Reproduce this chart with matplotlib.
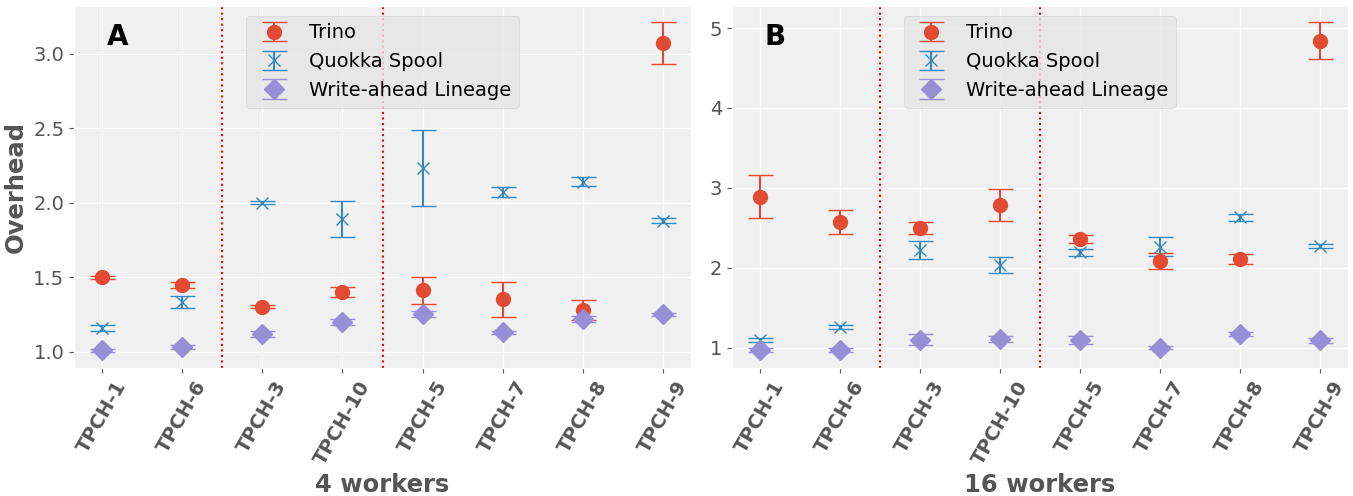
import matplotlib
matplotlib.use("Agg")
import matplotlib.pyplot as plt
import numpy as np

queries = ["TPCH-1", "TPCH-6", "TPCH-3", "TPCH-10", "TPCH-5", "TPCH-7", "TPCH-8", "TPCH-9"]
series_names = ["Trino", "Quokka Spool", "Write-ahead Lineage"]
panel_labels = ["A", "B"]
worker_labels = ["4 workers", "16 workers"]

# 4 workers
trino_4 = [1.50, 1.45, 1.30, 1.40, 1.41, 1.35, 1.28, 3.07]
trino_4_err = [0.01, 0.02, 0.01, 0.035, 0.09, 0.115, 0.065, 0.14]
quokka_4 = [1.16, 1.33, 2.00, 1.89, 2.23, 2.07, 2.14, 1.88]
quokka_4_err = [0.02, 0.04, 0.01, 0.12, 0.255, 0.035, 0.03, 0.02]
wal_4 = [1.01, 1.03, 1.12, 1.20, 1.25, 1.13, 1.22, 1.25]
wal_4_err = [0.01, 0.015, 0.02, 0.02, 0.02, 0.01, 0.02, 0.01]

# 16 workers
trino_16 = [2.89, 2.57, 2.50, 2.78, 2.36, 2.08, 2.11, 4.84]
trino_16_err = [0.27, 0.15, 0.075, 0.20, 0.055, 0.10, 0.06, 0.23]
quokka_16 = [1.09, 1.26, 2.22, 2.03, 2.19, 2.26, 2.63, 2.27]
quokka_16_err = [0.025, 0.025, 0.115, 0.10, 0.05, 0.12, 0.04, 0.025]
wal_16 = [0.97, 0.97, 1.10, 1.11, 1.09, 1.00, 1.17, 1.09]
wal_16_err = [0.02, 0.02, 0.07, 0.04, 0.05, 0.02, 0.02, 0.03]

group_boundaries = [1.5, 3.5]

plt.style.use("ggplot")
colors = ["#E24A33", "#348ABD", "#988ED5"]
markers = ["o", "x", "D"]
msizes = [10, 9, 10]
mews = [1.0, 1.0, 1.0]

fig = plt.figure(figsize=(13.53, 4.96), dpi=100)
ax1 = fig.add_axes([74 / 1353, 128 / 496, 617 / 1353, 362 / 496])
ax2 = fig.add_axes([732 / 1353, 128 / 496, 616 / 1353, 362 / 496])

data = [
    ([trino_4, quokka_4, wal_4], [trino_4_err, quokka_4_err, wal_4_err]),
    ([trino_16, quokka_16, wal_16], [trino_16_err, quokka_16_err, wal_16_err]),
]

x = np.arange(len(queries))
for i, ax in enumerate([ax1, ax2]):
    ax.set_facecolor("#F0F0F0")
    vals, errs = data[i]
    for s in range(3):
        ax.errorbar(x, vals[s], yerr=errs[s], fmt=markers[s], color=colors[s],
                    markersize=msizes[s], capsize=9, elinewidth=1.5, capthick=1.5,
                    markeredgewidth=mews[s], label=series_names[s])
    for b in group_boundaries:
        ax.axvline(b, color="red", linestyle=":", linewidth=1.5)
    ax.set_xticks(x)
    ax.set_xticklabels(queries, rotation=60, fontsize=14, fontweight="bold", color="#555555")
    ax.tick_params(axis="y", labelsize=14, labelcolor="#555555")
    ax.set_xlabel(worker_labels[i], fontsize=17.5, fontweight="bold", color="#555555")
    ax.text(0.07, 0.915, panel_labels[i], transform=ax.transAxes, fontsize=20,
            fontweight="bold", color="black", ha="center", va="center")
    leg = ax.legend(loc="upper center", fontsize=14, facecolor="#E5E5E5",
                    edgecolor="#D0D0D0", framealpha=0.8)
    for t in leg.get_texts():
        t.set_color("black")
    ax.grid(True, color="white", linewidth=1.0)

ax1.set_ylabel("Overhead", fontsize=17.5, fontweight="bold", color="#555555")
ax1.set_yticks([1.0, 1.5, 2.0, 2.5, 3.0])
ax2.set_yticks([1, 2, 3, 4, 5])

fig.savefig("out.png", dpi=100)
